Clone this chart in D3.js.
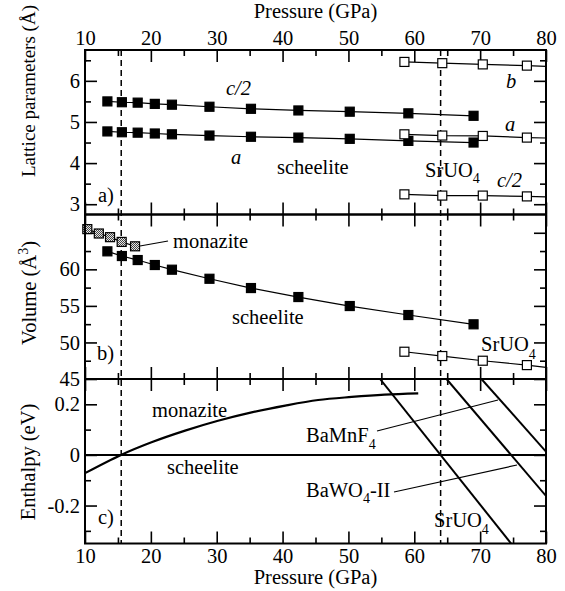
<!DOCTYPE html>
<html>
<head>
<meta charset="utf-8">
<script src="https://cdn.jsdelivr.net/npm/d3@7"></script>
<style>
  html, body { margin: 0; padding: 0; background: #fff; }
  svg { display: block; }
  svg text { font-family: "Liberation Serif", "Tinos", "Times New Roman", Times, "DejaVu Serif", serif; }
</style>
</head>
<body>
<svg id="chart" width="565" height="591"></svg>
<script>
// ---------------- data ----------------
const pressureTicks = [10, 20, 30, 40, 50, 60, 70, 80];
const pressureMinor = [15, 25, 35, 45, 55, 65, 75];

// scheelite phase (filled squares)
const scheeliteP  = [13.4, 15.6, 18.0, 20.6, 23.2, 28.9, 35.2, 42.4, 50.2, 59.1, 69.0];
const scheeliteC2 = [5.50, 5.48, 5.47, 5.44, 5.42, 5.37, 5.32, 5.28, 5.25, 5.21, 5.15];
const scheeliteA  = [4.77, 4.75, 4.74, 4.72, 4.70, 4.67, 4.64, 4.62, 4.59, 4.54, 4.50];
const scheeliteV  = [62.46, 61.82, 61.27, 60.59, 59.95, 58.71, 57.44, 56.21, 54.98, 53.75, 52.48];

// SrUO4-type phase (open squares); fitted lines continue to 80 GPa
const sruo4P  = [58.5, 64.25, 70.4, 77.1];
const sruo4B  = [6.46, 6.43, 6.40, 6.37];
const sruo4A  = [4.70, 4.67, 4.66, 4.62];
const sruo4C2 = [3.24, 3.21, 3.21, 3.19];
const sruo4V  = [48.73, 48.14, 47.50, 46.90];
const sruo4EdgeP = 80;
const sruo4EdgeB = 6.35, sruo4EdgeA = 4.61, sruo4EdgeC2 = 3.18, sruo4EdgeV = 46.6;

// monazite phase volume (hatched squares)
const monaziteP = [10.35, 12.1, 13.8, 15.57, 17.6];
const monaziteV = [65.5, 64.9, 64.4, 63.75, 63.15];

// enthalpy differences relative to scheelite (eV)
const monaziteHP = [10, 15.47, 20.1, 25.2, 30.2, 35.3, 40.4, 45.4, 50.5, 55.5, 60.6];
const monaziteH  = [-0.072, 0, 0.050, 0.096, 0.135, 0.168, 0.195, 0.217, 0.229, 0.238, 0.243];
const scheeliteHP = [10, 80];
const scheeliteH  = [0, 0];
const sruo4HP  = [54.8, 74.7];
const sruo4H   = [0.30, -0.35];
const bawo4HP  = [64.9, 80];
const bawo4H   = [0.30, -0.162];
const bamnf4HP = [70.2, 80];
const bamnf4H  = [0.30, 0.013];

// transition pressures (dashed lines)
const transitions = [15.5, 64];

// ---------------- layout ----------------
const svg = d3.select("#chart");
const L = 85, R = 546;
const TOP = 50, AB = 214.5, BC = 379, BOT = 543.5;
const FS = "20.5px";
const SERIF = "'Liberation Serif','Tinos','Times New Roman',Times,'DejaVu Serif',serif";

const x  = d3.scaleLinear().domain([10, 80]).range([L, R]);
const yA = d3.scaleLinear().domain([2.75, 6.75]).range([AB, TOP]);
const yB = d3.scaleLinear().domain([45, 67.5]).range([BC, AB]);
const yC = d3.scaleLinear().domain([-0.35, 0.30]).range([BOT, BC]);

const panels = [
  { id: "a", y: yA, top: TOP, bot: AB, major: [3, 4, 5, 6], minor: [3.5, 4.5, 5.5, 6.5], labels: [3, 4, 5, 6], fmt: d => String(d) },
  { id: "b", y: yB, top: AB, bot: BC, major: [45, 50, 55, 60, 65], minor: [47.5, 52.5, 57.5, 62.5], labels: [45, 50, 55, 60], fmt: d => String(d) },
  { id: "c", y: yC, top: BC, bot: BOT, major: [-0.2, 0, 0.2], minor: [-0.3, -0.1, 0.1], labels: [-0.2, 0, 0.2], fmt: d => d === 0 ? "0" : d.toFixed(1) }
];

// checker pattern for monazite markers
const defs = svg.append("defs");
const pat = defs.append("pattern").attr("id", "checker").attr("width", 2).attr("height", 2)
  .attr("patternUnits", "userSpaceOnUse");
pat.append("rect").attr("width", 2).attr("height", 2).attr("fill", "#e6e6e6");
pat.append("rect").attr("width", 1).attr("height", 1).attr("fill", "#444");
pat.append("rect").attr("x", 1).attr("y", 1).attr("width", 1).attr("height", 1).attr("fill", "#444");

panels.forEach(p => {
  defs.append("clipPath").attr("id", "clip-" + p.id)
    .append("rect").attr("x", L).attr("y", p.top).attr("width", R - L).attr("height", p.bot - p.top);
});

// ---------------- axes / ticks ----------------
function styleAxis(g) {
  g.attr("font-family", null).attr("font-size", null);
  g.select(".domain").remove();
  g.selectAll("line").attr("stroke", "#000").attr("stroke-width", 1.6);
  g.selectAll("text").attr("fill", "#000").style("font-size", FS).style("font-family", SERIF);
}

panels.forEach((p, i) => {
  // y ticks left (with labels) and right
  svg.append("g").attr("transform", `translate(${L},0)`)
    .call(d3.axisLeft(p.y).tickValues(p.major).tickSizeInner(-12).tickSizeOuter(0).tickPadding(5)
      .tickFormat(d => p.labels.includes(d) ? p.fmt(d) : ""))
    .call(styleAxis);
  svg.append("g").attr("transform", `translate(${L},0)`)
    .call(d3.axisLeft(p.y).tickValues(p.minor).tickSizeInner(-6).tickSizeOuter(0).tickFormat(""))
    .call(styleAxis);
  svg.append("g").attr("transform", `translate(${R},0)`)
    .call(d3.axisRight(p.y).tickValues(p.major).tickSizeInner(-12).tickSizeOuter(0).tickFormat(""))
    .call(styleAxis);
  svg.append("g").attr("transform", `translate(${R},0)`)
    .call(d3.axisRight(p.y).tickValues(p.minor).tickSizeInner(-6).tickSizeOuter(0).tickFormat(""))
    .call(styleAxis);

  // x ticks on top and bottom edges of every panel
  svg.append("g").attr("transform", `translate(0,${p.top})`)
    .call(d3.axisTop(x).tickValues(pressureTicks).tickSizeInner(-12).tickSizeOuter(0).tickPadding(5)
      .tickFormat(i === 0 ? d3.format("d") : () => ""))
    .call(styleAxis);
  svg.append("g").attr("transform", `translate(0,${p.top})`)
    .call(d3.axisTop(x).tickValues(pressureMinor).tickSizeInner(-6).tickSizeOuter(0).tickFormat(""))
    .call(styleAxis);
  svg.append("g").attr("transform", `translate(0,${p.bot})`)
    .call(d3.axisBottom(x).tickValues(pressureTicks).tickSizeInner(-12).tickSizeOuter(0).tickPadding(5)
      .tickFormat(i === 2 ? d3.format("d") : () => ""))
    .call(styleAxis);
  svg.append("g").attr("transform", `translate(0,${p.bot})`)
    .call(d3.axisBottom(x).tickValues(pressureMinor).tickSizeInner(-6).tickSizeOuter(0).tickFormat(""))
    .call(styleAxis);
});

// transition pressures
svg.append("g").selectAll("line").data(transitions).join("line")
  .attr("x1", d => x(d)).attr("x2", d => x(d)).attr("y1", TOP).attr("y2", BOT)
  .attr("stroke", "#000").attr("stroke-width", 1.5).attr("stroke-dasharray", "6,4");

// ---------------- series ----------------
function zip(ps, vs) { return ps.map((p, i) => [p, vs[i]]); }

function drawLine(clipId, y, pts, width, curve) {
  const gen = d3.line().x(d => x(d[0])).y(d => y(d[1]));
  if (curve) gen.curve(curve);
  svg.append("path").attr("clip-path", `url(#clip-${clipId})`)
    .attr("d", gen(pts)).attr("fill", "none").attr("stroke", "#000").attr("stroke-width", width);
}

function drawSquares(y, pts, fill) {
  svg.append("g").selectAll("rect").data(pts).join("rect")
    .attr("x", d => x(d[0]) - 4.5).attr("y", d => y(d[1]) - 4.5)
    .attr("width", 9).attr("height", 9)
    .attr("fill", fill).attr("stroke", "#000").attr("stroke-width", 1.2);
}

// panel a: lattice parameters
drawLine("a", yA, zip(scheeliteP, scheeliteC2), 1.2);
drawLine("a", yA, zip(scheeliteP, scheeliteA), 1.2);
drawLine("a", yA, zip(sruo4P, sruo4B).concat([[sruo4EdgeP, sruo4EdgeB]]), 1.2);
drawLine("a", yA, zip(sruo4P, sruo4A).concat([[sruo4EdgeP, sruo4EdgeA]]), 1.2);
drawLine("a", yA, zip(sruo4P, sruo4C2).concat([[sruo4EdgeP, sruo4EdgeC2]]), 1.2);
drawSquares(yA, zip(scheeliteP, scheeliteC2), "#000");
drawSquares(yA, zip(scheeliteP, scheeliteA), "#000");
drawSquares(yA, zip(sruo4P, sruo4B), "#fff");
drawSquares(yA, zip(sruo4P, sruo4A), "#fff");
drawSquares(yA, zip(sruo4P, sruo4C2), "#fff");

// panel b: volume
drawLine("b", yB, zip(scheeliteP, scheeliteV), 1.2);
drawLine("b", yB, zip(monaziteP, monaziteV), 1.2);
drawLine("b", yB, zip(sruo4P, sruo4V).concat([[sruo4EdgeP, sruo4EdgeV]]), 1.2);
drawSquares(yB, zip(scheeliteP, scheeliteV), "#000");
drawSquares(yB, zip(monaziteP, monaziteV), "url(#checker)");
drawSquares(yB, zip(sruo4P, sruo4V), "#fff");

// panel c: enthalpy
drawLine("c", yC, zip(scheeliteHP, scheeliteH), 2);
drawLine("c", yC, zip(monaziteHP, monaziteH), 2.2, d3.curveCatmullRom);
drawLine("c", yC, zip(sruo4HP, sruo4H), 2);
drawLine("c", yC, zip(bawo4HP, bawo4H), 2);
drawLine("c", yC, zip(bamnf4HP, bamnf4H), 2);

// leader lines
const leaders = [[140, 246, 168, 241], [377, 431, 498, 400], [394, 492, 517, 465]];
svg.append("g").selectAll("line").data(leaders).join("line")
  .attr("x1", d => d[0]).attr("y1", d => d[1]).attr("x2", d => d[2]).attr("y2", d => d[3])
  .attr("stroke", "#000").attr("stroke-width", 1.2);

// frames
[TOP, AB, BC].forEach((t, i) => {
  const b = [AB, BC, BOT][i];
  svg.append("rect").attr("x", L).attr("y", t).attr("width", R - L).attr("height", b - t)
    .attr("fill", "none").attr("stroke", "#000").attr("stroke-width", 2);
});

// ---------------- text ----------------
function label(xp, yp, parts, opts = {}) {
  const t = svg.append("text").attr("x", xp).attr("y", yp)
    .style("font-size", opts.fs || FS).style("font-family", SERIF).attr("fill", "#000");
  if (opts.italic) t.style("font-style", "italic");
  if (opts.anchor) t.attr("text-anchor", opts.anchor);
  if (opts.rotate) t.attr("transform", `rotate(-90,${xp},${yp})`);
  parts.forEach(p => {
    const s = t.append("tspan").text(p.t);
    if (p.dy) s.attr("dy", p.dy);
    if (p.fs) s.style("font-size", p.fs);
  });
  return t;
}
const sub = "14px";

// panel a
label(226, 95, [{ t: "c/2" }], { italic: true });
label(231, 164, [{ t: "a" }], { italic: true });
label(277, 174, [{ t: "scheelite" }]);
label(425, 176.5, [{ t: "SrUO" }, { t: "4", dy: 6.5, fs: sub }]);
label(506, 88, [{ t: "b" }], { italic: true });
label(505, 130.5, [{ t: "a" }], { italic: true });
label(497, 187, [{ t: "c/2" }], { italic: true });
label(98, 202, [{ t: "a)" }]);

// panel b
label(173, 248, [{ t: "monazite" }]);
label(232, 323.5, [{ t: "scheelite" }]);
label(481, 350.5, [{ t: "SrUO" }, { t: "4", dy: 8.5, fs: sub }]);
label(97, 360, [{ t: "b)" }]);

// panel c
label(152, 417, [{ t: "monazite" }]);
label(167, 474, [{ t: "scheelite" }]);
label(306, 442, [{ t: "BaMnF" }, { t: "4", dy: 6.5, fs: sub }]);
label(306, 496.5, [{ t: "BaWO" }, { t: "4", dy: 6.5, fs: sub }, { t: "-II", dy: -6.5 }]);
label(434, 526.5, [{ t: "SrUO" }, { t: "4", dy: 7.5, fs: sub }]);
label(98, 524, [{ t: "c)" }]);

// axis titles
label((L + R) / 2, 18, [{ t: "Pressure (GPa)" }], { anchor: "middle" });
label((L + R) / 2, 584, [{ t: "Pressure (GPa)" }], { anchor: "middle" });
label(35, 91, [{ t: "Lattice parameters (Å)" }], { anchor: "middle", rotate: true, fs: "19px" });
label(36, 293, [{ t: "Volume (Å" }, { t: "3", dy: -8, fs: sub }, { t: ")", dy: 8 }], { anchor: "middle", rotate: true });
label(35, 462, [{ t: "Enthalpy (eV)" }], { anchor: "middle", rotate: true });
</script>
</body>
</html>
